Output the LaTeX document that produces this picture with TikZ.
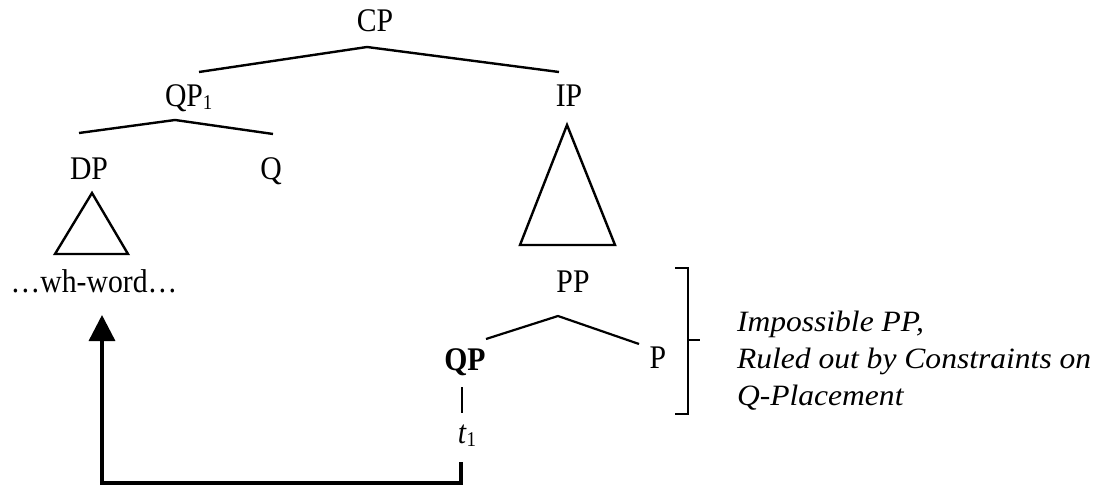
\documentclass[tikz,border=0pt]{standalone}
\usepackage{fontspec}
\setmainfont{Liberation Serif}
\newfontfamily\treefont[FakeStretch=0.9]{Liberation Serif}
\newfontfamily\notefont[FakeStretch=1.07]{Liberation Serif}
\usetikzlibrary{arrows.meta,calc}
\begin{document}
\begin{tikzpicture}[x=1pt,y=-1pt,
  lbl/.style={inner sep=0pt,outer sep=0pt,anchor=base,font=\treefont\fontsize{33}{38}\selectfont},
  note/.style={inner sep=0pt,outer sep=0pt,anchor=base west,font=\notefont\fontsize{29.5}{37}\selectfont\itshape},
  branch/.style={line width=2.4pt,line join=miter},
  thin/.style={line width=1.7pt},
  move/.style={line width=3.4pt,line join=miter,-{Triangle[length=26pt,width=26pt]}}]
\useasboundingbox (0,0) rectangle (1100,486);
% labels
\node[lbl] (CP) at (375,32) {CP};
\node[lbl,anchor=base west] (QP1) at (165,107) {QP\raisebox{-3pt}{\fontsize{21}{21}\selectfont 1}};
\node[lbl] (IP) at (569,107) {IP};
\node[lbl] (DP) at (89,180) {DP};
\node[lbl] (Q) at (271,180) {Q};
\node[lbl] (wh) at (94,292) {\dots wh-word\dots};
\node[lbl,font=\treefont\fontsize{33}{38}\selectfont\bfseries] (QP) at (465,370) {QP};
\node[lbl] (PP) at (573,293) {PP};
\node[lbl] (P) at (658,368) {P};
\node[lbl] (t1) at (467,443) {\textit{t}\raisebox{-3pt}{\fontsize{21}{21}\selectfont 1}};
\node[note] (n1) at (737,331) {Impossible PP,};
\node[note] (n2) at (737,368) {Ruled out by Constraints on};
\node[note] (n3) at (737,405) {Q-Placement};
% branch points
\coordinate (cpA) at (367,47);
\coordinate (cpL) at (199,72);
\coordinate (cpR) at (559,72);
\coordinate (qA) at (175,120);
\coordinate (qL) at (79,133);
\coordinate (qR) at (273,134);
\coordinate (dA) at (92,193);
\coordinate (dL) at (55,254);
\coordinate (dR) at (128,254);
\coordinate (iA) at (567,125);
\coordinate (iL) at (520,245);
\coordinate (iR) at (615,245);
\coordinate (pA) at (558,316);
\coordinate (pL) at (486,339);
\coordinate (pR) at (639,344);
\coordinate (qpT) at (462,387);
\coordinate (qpB) at (462,413);
\coordinate (bT) at (675,268);
\coordinate (bB) at (675,414);
\coordinate (bM) at (688,340);
\coordinate (tr) at (461,462);
\coordinate (tip) at (102,315);
% tree
\draw[branch] (cpL) -- (cpA) -- (cpR);
\draw[branch] (qL) -- (qA) -- (qR);
\draw[branch] (dA) -- (dL) -- (dR) -- cycle;
\draw[branch] (iA) -- (iL) -- (iR) -- cycle;
\draw[branch,line width=2.2pt] (pL) -- (pA) -- (pR);
\draw[thin] (qpT) -- (qpB);
% bracket
\draw[line width=2.2pt,line join=miter] (bT) -- ++(13,0) -- ($(bB)+(13,0)$) -- (bB);
\draw[line width=2.2pt] (bM) -- ++(12,0);
% movement arrow
\draw[move] (tr) -- ++(0,21) -| (tip);
\end{tikzpicture}
\end{document}
